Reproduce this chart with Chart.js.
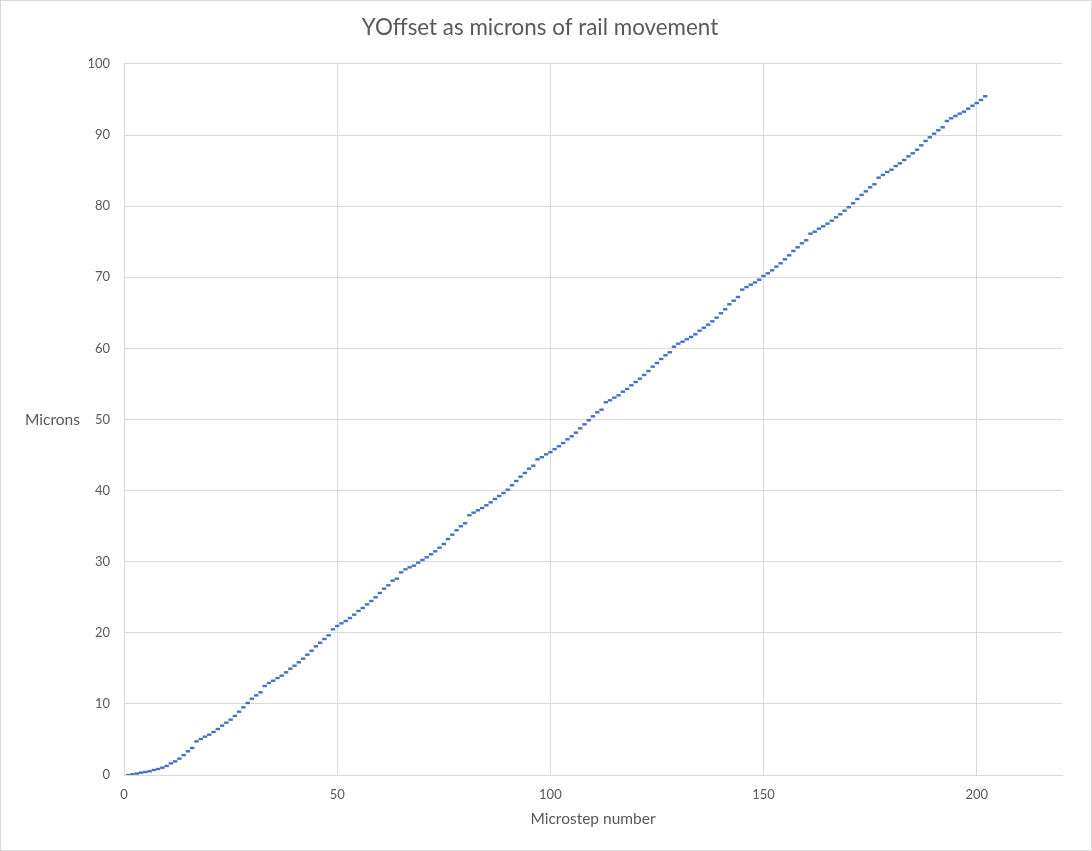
<!DOCTYPE html>
<html>
<head>
<meta charset="utf-8">
<script src="https://cdn.jsdelivr.net/npm/chart.js@4/dist/chart.umd.min.js"></script>
<style>
  html, body { margin: 0; padding: 0; background: #ffffff; }
  #wrap { width: 1092px; height: 851px; }
</style>
</head>
<body>
<div id="wrap"><canvas id="c" width="1092" height="851"></canvas></div>
<script>
const chartTitle = "YOffset as microns of rail movement";
const xAxisTitle = "Microstep number";
const yAxisTitle = "Microns";

const microstep = [
  1, 2, 3, 4, 5, 6, 7, 8, 9, 10, 11, 12, 13, 14, 15, 16, 17, 18, 19, 20,
  21, 22, 23, 24, 25, 26, 27, 28, 29, 30, 31, 32, 33, 34, 35, 36, 37, 38, 39, 40,
  41, 42, 43, 44, 45, 46, 47, 48, 49, 50, 51, 52, 53, 54, 55, 56, 57, 58, 59, 60,
  61, 62, 63, 64, 65, 66, 67, 68, 69, 70, 71, 72, 73, 74, 75, 76, 77, 78, 79, 80,
  81, 82, 83, 84, 85, 86, 87, 88, 89, 90, 91, 92, 93, 94, 95, 96, 97, 98, 99, 100,
  101, 102, 103, 104, 105, 106, 107, 108, 109, 110, 111, 112, 113, 114, 115, 116, 117, 118, 119, 120,
  121, 122, 123, 124, 125, 126, 127, 128, 129, 130, 131, 132, 133, 134, 135, 136, 137, 138, 139, 140,
  141, 142, 143, 144, 145, 146, 147, 148, 149, 150, 151, 152, 153, 154, 155, 156, 157, 158, 159, 160,
  161, 162, 163, 164, 165, 166, 167, 168, 169, 170, 171, 172, 173, 174, 175, 176, 177, 178, 179, 180,
  181, 182, 183, 184, 185, 186, 187, 188, 189, 190, 191, 192, 193, 194, 195, 196, 197, 198, 199, 200,
  201, 202
];

const microns = [
  0.00, 0.10, 0.20, 0.33, 0.42, 0.52, 0.70, 0.84, 1.03, 1.27,
  1.64, 1.92, 2.30, 2.80, 3.33, 3.80, 4.73, 5.06, 5.39, 5.67,
  6.05, 6.47, 6.94, 7.36, 7.78, 8.30, 8.90, 9.52, 10.13, 10.73,
  11.20, 11.63, 12.52, 12.94, 13.26, 13.64, 13.97, 14.44, 14.95, 15.37,
  15.85, 16.36, 16.92, 17.48, 18.10, 18.60, 19.13, 19.65, 20.49, 20.96,
  21.33, 21.66, 22.08, 22.55, 23.07, 23.49, 24.00, 24.47, 24.99, 25.60,
  26.20, 26.68, 27.33, 27.61, 28.50, 28.93, 29.21, 29.44, 29.86, 30.24,
  30.62, 31.04, 31.46, 31.97, 32.49, 33.19, 33.80, 34.42, 34.98, 35.40,
  36.53, 36.90, 37.23, 37.55, 37.93, 38.35, 38.82, 39.24, 39.66, 40.13,
  40.75, 41.35, 41.96, 42.48, 43.08, 43.50, 44.40, 44.70, 45.10, 45.41,
  45.83, 46.23, 46.69, 47.21, 47.64, 48.15, 48.76, 49.32, 49.89, 50.45,
  51.01, 51.38, 52.42, 52.70, 53.07, 53.40, 53.91, 54.29, 54.81, 55.27,
  55.74, 56.26, 56.82, 57.43, 57.95, 58.51, 59.03, 59.45, 60.24, 60.66,
  60.94, 61.28, 61.60, 61.98, 62.49, 62.91, 63.33, 63.81, 64.32, 64.94,
  65.50, 66.20, 66.71, 67.23, 68.26, 68.63, 68.96, 69.27, 69.66, 70.18,
  70.56, 70.98, 71.50, 71.97, 72.53, 73.09, 73.70, 74.22, 74.78, 75.20,
  76.13, 76.41, 76.84, 77.17, 77.54, 77.96, 78.44, 78.86, 79.37, 79.85,
  80.41, 81.01, 81.58, 82.09, 82.66, 83.08, 84.01, 84.39, 84.81, 85.13,
  85.65, 86.03, 86.50, 87.02, 87.44, 87.95, 88.56, 89.17, 89.69, 90.20,
  90.68, 91.10, 91.98, 92.36, 92.69, 93.01, 93.29, 93.71, 94.13, 94.51,
  94.94, 95.46
];

const xTicks = [0, 50, 100, 150, 200];
const yTicks = [0, 10, 20, 30, 40, 50, 60, 70, 80, 90, 100];

const FONT = "Lato, 'Open Sans', 'DejaVu Sans', sans-serif";
const TEXT = "#595959";
const GRID = "#d9d9d9";
const SERIES = "#4472C4";

const frame = {
  id: 'frame',
  beforeDraw(chart) {
    const ctx = chart.ctx;
    ctx.save();
    ctx.fillStyle = '#ffffff';
    ctx.fillRect(0, 0, chart.width, chart.height);
    ctx.restore();
  },
  afterDraw(chart) {
    const ctx = chart.ctx;
    ctx.save();
    ctx.strokeStyle = GRID;
    ctx.lineWidth = 1;
    ctx.strokeRect(0.5, 0.5, chart.width - 1, chart.height - 1);
    ctx.fillStyle = TEXT;
    ctx.font = "15.5px " + FONT;
    ctx.textAlign = 'left';
    ctx.textBaseline = 'middle';
    ctx.fillText(yAxisTitle, 25, 420);
    ctx.restore();
  }
};

new Chart(document.getElementById('c'), {
  type: 'scatter',
  data: {
    datasets: [{
      label: chartTitle,
      data: microstep.map((x, i) => ({ x: x, y: microns[i] })),
      showLine: false,
      pointStyle: 'line',
      pointRadius: 2.2,
      pointHoverRadius: 2.2,
      pointBorderWidth: 2.4,
      borderColor: SERIES,
      backgroundColor: SERIES
    }]
  },
  options: {
    responsive: false,
    animation: false,
    devicePixelRatio: 1,
    events: [],
    layout: { padding: { left: 18, right: 30, top: 0, bottom: 0 } },
    plugins: {
      legend: { display: false },
      tooltip: { enabled: false },
      title: {
        display: true,
        text: chartTitle,
        color: TEXT,
        font: { family: FONT, size: 22.4, weight: 'normal' },
        padding: { top: 14.8, bottom: 22.3 }
      }
    },
    scales: {
      x: {
        type: 'linear',
        min: 0,
        max: 220,
        afterBuildTicks: (scale) => { scale.ticks = xTicks.map(v => ({ value: v })); },
        afterFit: (scale) => { scale.height = 76; },
        ticks: { color: TEXT, font: { family: FONT, size: 13 }, padding: 12 },
        grid: { color: GRID, lineWidth: 1, drawTicks: false },
        border: { color: GRID, width: 1 },
        title: {
          display: true,
          text: xAxisTitle,
          color: TEXT,
          font: { family: FONT, size: 15.5 },
          padding: { top: 0, bottom: 22.7 }
        }
      },
      y: {
        type: 'linear',
        min: 0,
        max: 100,
        afterBuildTicks: (scale) => { scale.ticks = yTicks.map(v => ({ value: v })); },
        afterFit: (scale) => { scale.width = 106; },
        ticks: { color: TEXT, font: { family: FONT, size: 13 }, padding: 14 },
        grid: { color: GRID, lineWidth: 1, drawTicks: false },
        border: { display: false }
      }
    }
  },
  plugins: [frame]
});
</script>
</body>
</html>
